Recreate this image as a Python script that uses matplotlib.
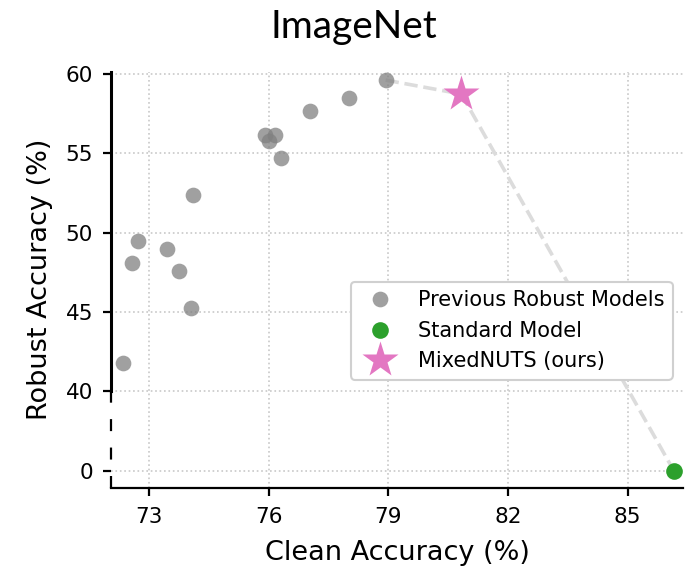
import numpy as np
import matplotlib
matplotlib.use('Agg')
import matplotlib.pyplot as plt

# ---- data ----
prev_clean = [78.93, 78.02, 77.02, 75.91, 76.00, 76.16, 76.31, 74.10, 72.72, 73.45, 72.57, 73.75, 74.05, 72.35]
prev_robust = [59.62, 58.50, 57.70, 56.15, 55.80, 56.15, 54.70, 52.40, 49.46, 48.96, 48.10, 47.57, 45.24, 41.77]
std_clean = [86.16]
std_robust = [0.0]
mixed_clean = [80.83]
mixed_robust = [58.74]
xticks = [73, 76, 79, 82, 85]
yticks = [0, 40, 45, 50, 55, 60]
labels = ["Previous Robust Models", "Standard Model", "MixedNUTS (ours)"]

BREAK = 40.0


def fwd(y):
    y = np.asarray(y, dtype=float)
    return np.where(y >= BREAK, y, 35.0 + y / 8.0)


def inv(t):
    t = np.asarray(t, dtype=float)
    return np.where(t >= BREAK, t, (t - 35.0) * 8.0)


fig = plt.figure(figsize=(6.92, 5.68), dpi=100)
ax = fig.add_axes([0.1604, 0.1414, 0.987 - 0.1604, 0.8738 - 0.1414])
ax.set_yscale('function', functions=(fwd, inv))

ymin, ymax = -8.5, 60.15
ax.set_xlim(72.04, 86.39)
ax.set_ylim(ymin, ymax)

# frontier line
i_best = int(np.argmax(prev_robust))
fx = [prev_clean[i_best], mixed_clean[0], std_clean[0]]
fy = [prev_robust[i_best], mixed_robust[0], std_robust[0]]
ax.plot(fx, fy, ls='--', color='#dcdcdc', lw=2.6, zorder=2)

ax.plot(prev_clean, prev_robust, 'o', color='gray', alpha=0.75, ms=11.3,
        mec='none', ls='none', label=labels[0], zorder=3)
ax.plot(std_clean, std_robust, 'o', color='#2ca02c', ms=12, mec='none',
        ls='none', label=labels[1], zorder=4, clip_on=False)
ax.plot(mixed_clean, mixed_robust, '*', color='#e377c2', ms=27, mec='none',
        ls='none', label=labels[2], zorder=4)

ax.set_xticks(xticks)
ax.set_yticks(yticks)
ax.set_xticklabels([str(v) for v in xticks])
ax.set_yticklabels([str(v) for v in yticks])
ax.minorticks_off()
ax.tick_params(axis='both', labelsize=15.5, length=6, width=1.6)
ax.tick_params(axis='x', pad=8)
ax.tick_params(axis='y', pad=7)

ax.grid(True, ls=':', color='#c8c8c8', lw=1.2)
ax.set_axisbelow(True)

for s in ['top', 'right']:
    ax.spines[s].set_visible(False)
ax.spines['left'].set_bounds(BREAK, ymax)
ax.spines['left'].set_linewidth(2.2)
ax.spines['bottom'].set_linewidth(1.6)

# dashed part of the left axis (broken region)
ax.plot([0, 0], [ymin, BREAK], transform=ax.get_yaxis_transform(),
        color='black', lw=1.6, ls=(0, (5.4, 7.4)), clip_on=False, zorder=5)

ax.set_xlabel('Clean Accuracy (%)', fontsize=19.5, labelpad=9)
ax.set_ylabel('Robust Accuracy (%)', fontsize=19.5, labelpad=9)

leg = ax.legend(loc='center right', bbox_to_anchor=(1.0, 0.377), fontsize=15,
                frameon=True, fancybox=True, edgecolor='#d0d0d0', framealpha=1)
leg.get_frame().set_linewidth(1.5)

fig.text(354 / 692, 1 - 38 / 568, 'ImageNet', fontsize=28, family='Lato',
         ha='center', va='baseline')

fig.savefig('out.png', dpi=100)
